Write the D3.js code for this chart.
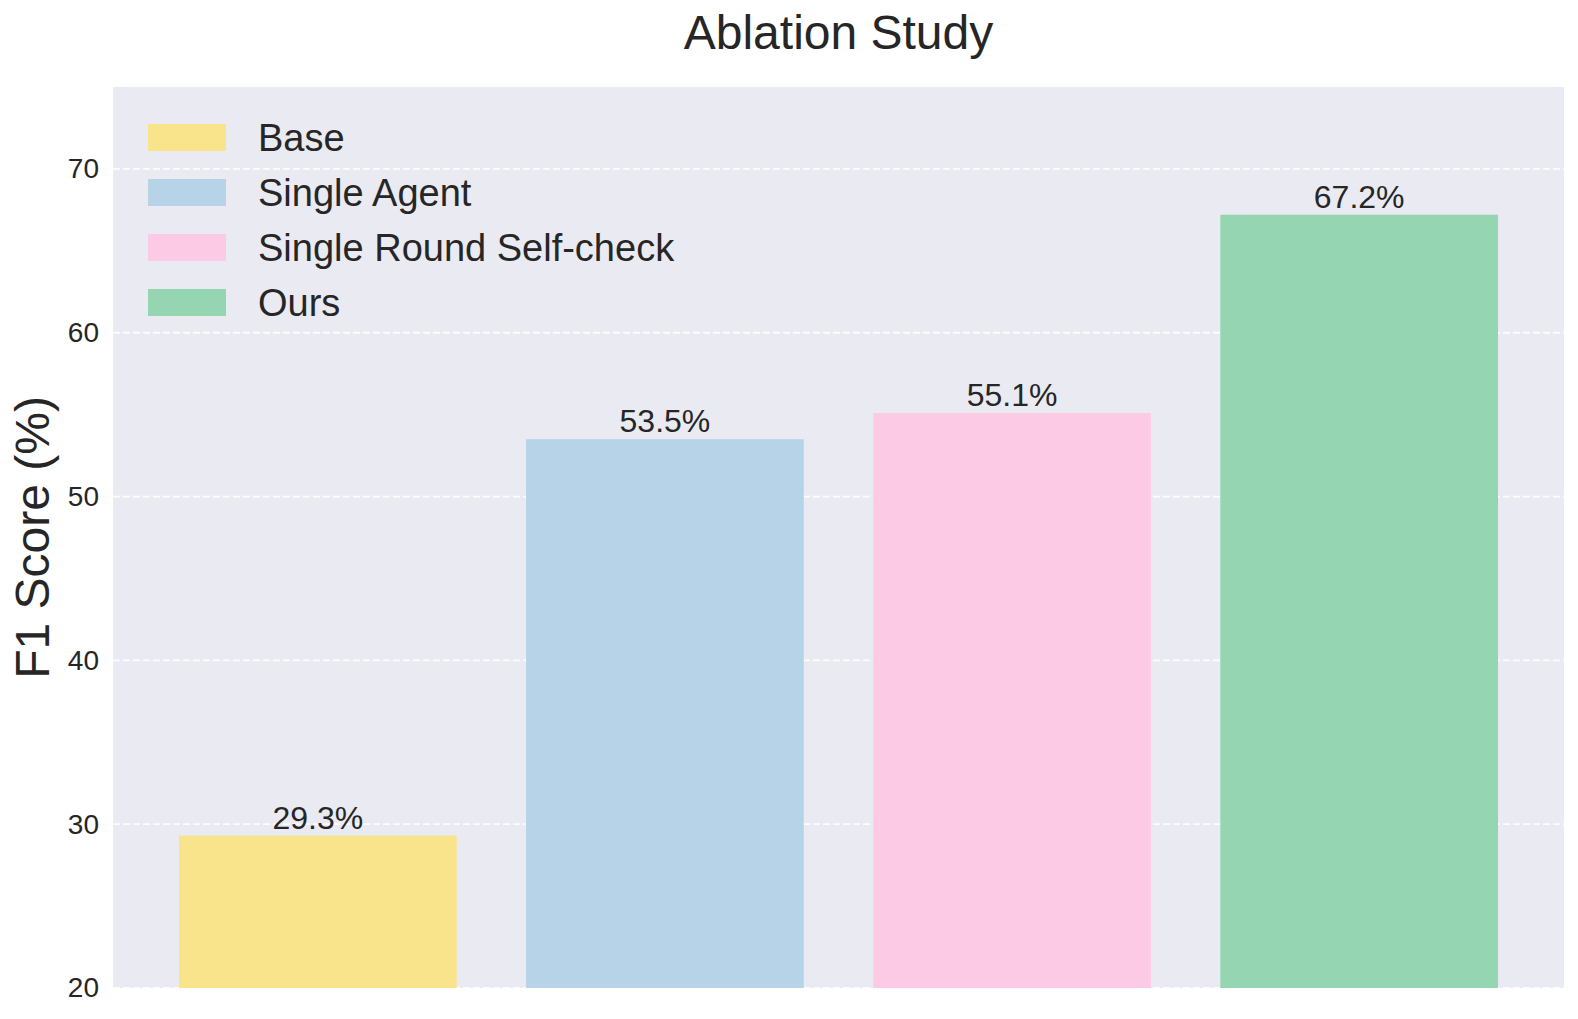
<!DOCTYPE html>
<html>
<head>
<meta charset="utf-8">
<script src="https://cdn.jsdelivr.net/npm/d3@7"></script>
<style>
  html, body { margin: 0; padding: 0; background: #fff; }
  svg { display: block; font-family: "Liberation Sans", Arial, sans-serif; }
</style>
</head>
<body>
<svg id="chart" width="1578" height="1019"></svg>
<script>
// data
const methods = ["Base", "Single Agent", "Single Round Self-check", "Ours"];
const f1Scores = [29.3, 53.5, 55.1, 67.2];
const barColors = ["#f9e48b", "#b7d3e8", "#fccae5", "#96d5b2"];
const yTicks = [20, 30, 40, 50, 60, 70];

const svg = d3.select("#chart");
const M = { top: 87, right: 14, bottom: 31, left: 113 };
const W = 1578 - M.left - M.right;
const H = 1019 - M.top - M.bottom;
const ink = "#262626";

const g = svg.append("g").attr("transform", `translate(${M.left},${M.top})`);

// matplotlib-ish: bars at 0..n-1, width 0.8, 5% margins
const n = methods.length;
const pad = (n - 1 + 0.8) * 0.05;
const x = d3.scaleLinear().domain([-0.4 - pad, n - 1 + 0.4 + pad]).range([0, W]);
const y = d3.scaleLinear().domain([20, 75]).range([H, 0]);

// plot background
g.append("rect").attr("width", W).attr("height", H).attr("fill", "#eaeaf2");

// dashed grid
g.append("g").selectAll("line").data(yTicks).join("line")
  .attr("x1", 0).attr("x2", W)
  .attr("y1", d => y(d)).attr("y2", d => y(d))
  .attr("stroke", "#ffffff").attr("stroke-width", 1.8)
  .attr("stroke-dasharray", "7,3").attr("opacity", 0.9);

// y axis (labels only, no line)
const yAxis = g.append("g").call(d3.axisLeft(y).tickValues(yTicks).tickSize(0).tickPadding(14));
yAxis.select(".domain").remove();
yAxis.selectAll("text").attr("font-size", 28).attr("fill", ink)
  .attr("font-family", "Liberation Sans, Arial, sans-serif");

// bars
g.append("g").selectAll("rect").data(f1Scores).join("rect")
  .attr("x", (d, i) => x(i - 0.4))
  .attr("width", x(0.8) - x(0))
  .attr("y", d => y(d))
  .attr("height", d => y(20) - y(d))
  .attr("fill", (d, i) => barColors[i]);

// value labels
g.append("g").selectAll("text").data(f1Scores).join("text")
  .attr("x", (d, i) => x(i))
  .attr("y", d => y(d) - 7)
  .attr("text-anchor", "middle")
  .attr("font-size", 32).attr("fill", ink)
  .text(d => d.toFixed(1) + "%");

// legend
const leg = g.append("g").attr("transform", "translate(35,37)");
const rows = leg.selectAll("g").data(methods).join("g")
  .attr("transform", (d, i) => `translate(0,${i * 55})`);
rows.append("rect").attr("width", 78).attr("height", 27)
  .attr("fill", (d, i) => barColors[i]);
rows.append("text").attr("x", 110).attr("y", 27)
  .attr("font-size", 38).attr("fill", ink).text(d => d);

// title
svg.append("text")
  .attr("x", M.left + W / 2).attr("y", 49)
  .attr("text-anchor", "middle")
  .attr("font-size", 48).attr("fill", ink)
  .text("Ablation Study");

// y label
svg.append("text")
  .attr("transform", `translate(49,${M.top + H / 2}) rotate(-90)`)
  .attr("text-anchor", "middle")
  .attr("font-size", 48).attr("fill", ink)
  .text("F1 Score (%)");
</script>
</body>
</html>
